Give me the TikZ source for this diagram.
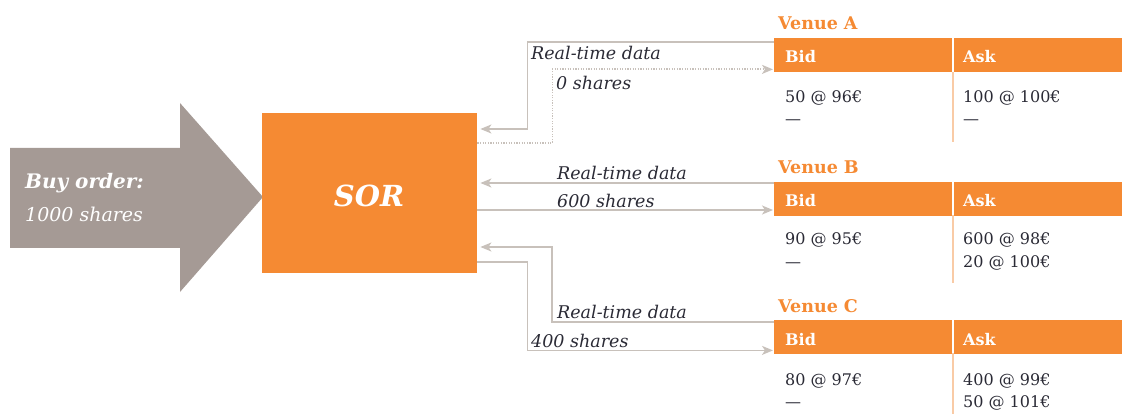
\documentclass[tikz,border=0pt]{standalone}
\usepackage{fontspec}
\setmainfont{DejaVu Serif}
\usetikzlibrary{arrows.meta,calc}
\definecolor{pwcorange}{HTML}{F58A33}
\definecolor{arrowgray}{HTML}{A59A95}
\definecolor{linegray}{HTML}{C8C1BB}
\definecolor{divorange}{HTML}{F9CBA6}
\definecolor{txt}{HTML}{2A2A35}
\tikzset{
  hdr/.style={fill=pwcorange, draw=none, inner sep=0pt, anchor=north west, minimum height=34pt},
  hdrtxt/.style={text=white, font=\fontsize{16}{19}\selectfont\bfseries, anchor=base west, inner sep=0pt},
  vtitle/.style={text=pwcorange, font=\fontsize{17.5}{20}\selectfont\bfseries, anchor=base west, inner sep=0pt},
  body/.style={text=txt, font=\fontsize{16}{22}\selectfont, anchor=base west, inner sep=0pt, align=left},
  lbl/.style={text=txt, font=\fontsize{17.5}{20}\selectfont\itshape, anchor=base west, inner sep=0pt},
  conn/.style={draw=linegray, line width=1.8pt, -{Stealth[length=11pt,width=9pt,inset=3pt]}},
  dconn/.style={conn, dash pattern=on 1.2pt off 1.4pt},
  divl/.style={draw=divorange, line width=1.2pt},
}
\begin{document}
\begin{tikzpicture}[x=1pt,y=-1pt]
\useasboundingbox (0,0) rectangle (1122,414);
% buy order arrow
\fill[arrowgray] (10,148) -- (180,148) -- (180,103) -- (263,197) -- (180,292) -- (180,248) -- (10,248) -- cycle;
\node[text=white, font=\fontsize{20}{24}\selectfont\bfseries\itshape, anchor=base west, inner sep=0pt] (buy1) at (25,189) {Buy order:};
\node[text=white, font=\fontsize{19}{24}\selectfont\itshape, anchor=base west, inner sep=0pt] (buy2) at (25,222) {1000 shares};
% SOR
\node[fill=pwcorange, inner sep=0pt, anchor=north west, minimum width=215pt, minimum height=160pt] (sor) at (262,113) {};
\node[text=white, font=\fontsize{29}{32}\selectfont\bfseries\itshape, anchor=base, inner sep=0pt] (sortxt) at (369,207) {SOR};
% Venue A
\node[vtitle] (tA) at (778,30) {Venue A};
\node[hdr, minimum width=178pt] (bidA) at (774,38) {};
\node[hdr, minimum width=168pt] (askA) at (954,38) {};
\node[hdrtxt] at (785,63) {Bid};
\node[hdrtxt] at (963,63) {Ask};
\draw[divl] (953,72) -- (953,142);
\node[body] (bA) at (785,125) {50 @ 96€\\—};
\node[body] (aA) at (963,125) {100 @ 100€\\—};
% Venue B
\node[vtitle] (tB) at (778,174) {Venue B};
\node[hdr, minimum width=178pt] (bidB) at (774,182) {};
\node[hdr, minimum width=168pt] (askB) at (954,182) {};
\node[hdrtxt] at (785,207) {Bid};
\node[hdrtxt] at (963,207) {Ask};
\draw[divl] (953,215) -- (953,283);
\node[body] (bB) at (785,267) {90 @ 95€\\—};
\node[body] (aB) at (963,267) {600 @ 98€\\20 @ 100€};
% Venue C
\node[vtitle] (tC) at (778,312) {Venue C};
\node[hdr, minimum width=178pt] (bidC) at (774,320) {};
\node[hdr, minimum width=168pt] (askC) at (954,320) {};
\node[hdrtxt] at (785,345) {Bid};
\node[hdrtxt] at (963,345) {Ask};
\draw[divl] (953,353) -- (953,414);
\node[body] (bC) at (785,407) {80 @ 97€\\—};
\node[body] (aC) at (963,407) {400 @ 99€\\50 @ 101€};
% connectors A
\draw[conn] ($(bidA.north west)+(0,4)$) -| ($(sor.north east)+(50,16)$) -- ($(sor.north east)+(3,16)$);
\draw[dconn] ($(sor.north east)+(0,30)$) -- ++(75,0) |- ($(bidA.south west)+(-1,-3)$);
\node[lbl] (lA1) at (531,60) {Real-time data};
\node[lbl] (lA2) at (556,90) {0 shares};
% connectors B
\draw[conn] ($(bidB.north west)+(0,1)$) -- ($(sor.north east |- bidB.north west)+(3,1)$);
\draw[conn] ($(sor.north east)+(0,97)$) -- ($(bidB.north west)+(-1,28)$);
\node[lbl] (lB1) at (557,180) {Real-time data};
\node[lbl] (lB2) at (557,208) {600 shares};
% connectors C
\draw[conn] ($(bidC.north west)+(0,2)$) -- ++(-222,0) |- ($(sor.north east)+(3,134)$);
\draw[conn] ($(sor.south east)+(0,-11)$) -- ++(50,0) |- ($(bidC.south west)+(-1,-4)$);
\node[lbl] (lC1) at (557,318) {Real-time data};
\node[lbl] (lC2) at (531,347) {400 shares};
\end{tikzpicture}
\end{document}
